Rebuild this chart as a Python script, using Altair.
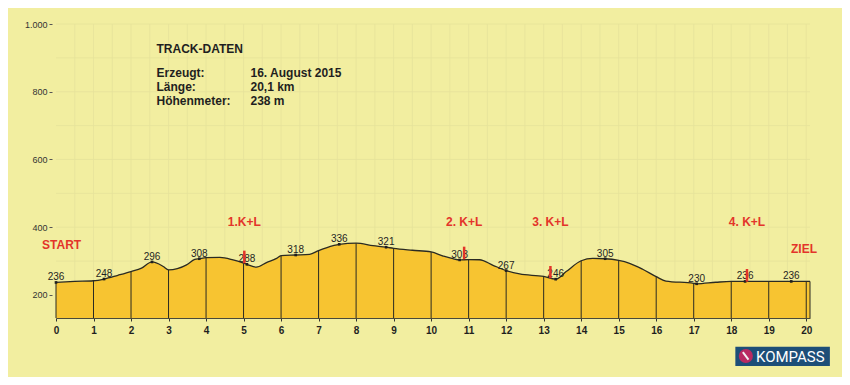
import altair as alt
import pandas as pd

# ---- elevation profile (km, metres) ----
km = [0, 0.5, 1, 1.28, 1.65, 2, 2.28, 2.56, 2.86, 3, 3.48, 3.7, 3.82, 4, 4.37,
      4.72, 5, 5.09, 5.34, 5.61, 5.88, 6, 6.39, 6.76, 7, 7.39, 7.55, 8, 8.45,
      8.8, 9, 9.5, 10, 10.32, 10.58, 10.76, 11, 11.29, 11.65, 12, 12.36, 13,
      13.32, 13.6, 14, 14.31, 14.64, 15, 15.29, 15.64, 16, 16.26, 17, 17.08,
      17.59, 18, 18.37, 19, 19.6, 20, 20.1]
elev = [237, 240, 242, 247, 258, 269, 279, 297.5, 284, 274, 289, 305, 307, 310, 311,
        303.5, 294, 290.5, 282, 295.5, 308, 316, 318, 320, 331, 345.7, 349.6, 352.8, 345.7,
        341, 337.7, 332, 327, 315, 307, 303.5, 304.5, 304, 287.6, 272, 262, 254.6,
        246.6, 269, 301, 308, 307, 302, 293.5, 276, 254, 241, 234.5, 233,
        237.5, 240, 240, 240, 240, 240, 240]
point_label = ["236", "", "", "248", "", "", "", "296", "", "", "", "", "308", "", "",
               "", "", "288", "", "", "", "", "318", "", "", "", "336", "", "",
               "321", "", "", "", "", "", "303", "", "", "", "267", "", "",
               "246", "", "", "", "305", "", "", "", "", "", "", "230",
               "", "", "236", "", "236", "", ""]

# ---- control points ----
cp_text = ["1.K+L", "2. K+L", "3. K+L", "4. K+L"]
cp_km = [5.02, 10.88, 13.18, 18.42]
cp_low = [293.6, 305.4, 249.3, 239.3]
cp_high = [330.8, 342.6, 285.6, 276.7]

# ---- axis ticks ----
x_ticks = [0, 1, 2, 3, 4, 5, 6, 7, 8, 9, 10, 11, 12, 13, 14, 15, 16, 17, 18, 19, 20]
y_ticks = [200, 400, 600, 800, 1000]
grid_elev = [200, 300, 400, 500, 600, 700, 800, 900, 1000]
grid_km = [0.5, 1, 1.5, 2, 2.5, 3, 3.5, 4, 4.5, 5, 5.5, 6, 6.5, 7, 7.5, 8, 8.5, 9,
           9.5, 10, 10.5, 11, 11.5, 12, 12.5, 13, 13.5, 14, 14.5, 15, 15.5, 16,
           16.5, 17, 17.5, 18, 18.5, 19, 19.5, 20]

# ---- track info ----
info_title = "TRACK-DATEN"
info_keys = ["Erzeugt:", "Länge:", "Höhenmeter:"]
info_vals = ["16. August 2015", "20,1 km", "238 m"]

profile = pd.DataFrame({"km": km, "elev": elev, "label": point_label})
cps = pd.DataFrame({"text": cp_text, "km": cp_km, "low": cp_low, "high": cp_high})
one = pd.DataFrame({"a": [0]})

BOTTOM = 132
xs = alt.Scale(domain=[0, 20.1], nice=False, zero=False)
ys = alt.Scale(domain=[BOTTOM, 1000], nice=False, zero=False)

FONT = "Liberation Sans, Arial, sans-serif"
RED = "#E3342A"
INK = "#1f1f1f"

x_axis = alt.Axis(values=x_ticks, tickCount=21, format="d", title=None, grid=False,
                  domain=True, domainColor="#4a4a3a", domainWidth=1.2,
                  ticks=True, tickSize=3, tickColor="#333333",
                  labelPadding=4, labelFontSize=10, labelFontWeight="bold",
                  labelColor=INK, labelFont=FONT, labelOverlap=False,
                  labelFlush=False)
y_axis = alt.Axis(values=y_ticks, title=None, grid=False, domain=False,
                  ticks=True, tickSize=3, tickColor="#555555", offset=4,
                  labelPadding=2, labelFontSize=9, labelColor="#333333",
                  labelFont=FONT, labelOverlap=False,
                  labelExpr="replace(format(datum.value, ','), ',', '.')")


def X(f):
    return alt.X(f, scale=xs, axis=x_axis, title=None)


def Y(f):
    return alt.Y(f, scale=ys, axis=y_axis, title=None)


hgrid = alt.Chart(pd.DataFrame({"g": grid_elev})).mark_rule(
    color="#E6E29A", strokeWidth=0.8).encode(y=Y("g:Q"))
vgrid = alt.Chart(pd.DataFrame({"g": grid_km})).mark_rule(
    color="#E6E29A", strokeWidth=0.8).encode(x=X("g:Q"))

base = alt.Chart(profile)
area = base.mark_area(color="#F7C431", interpolate="monotone").encode(
    x=X("km:Q"), y=Y("elev:Q"), y2=alt.datum(BOTTOM))
line = base.mark_line(color="#2a2a22", strokeWidth=1.3, interpolate="monotone").encode(
    x=X("km:Q"), y=Y("elev:Q"))
kmlines = base.transform_filter(
    "datum.km % 1 == 0 || datum.km == 20.1").mark_rule(
    color="#2a2a22", strokeWidth=1).encode(x=X("km:Q"), y=Y("elev:Q"), y2=alt.datum(BOTTOM))

labelled = base.transform_filter("datum.label != ''")
dots = labelled.mark_point(shape="square", filled=True, size=7, color=INK, opacity=1).encode(
    x=X("km:Q"), y=Y("elev:Q"))
vals = labelled.mark_text(fontSize=10, font=FONT, color=INK, baseline="alphabetic",
                          dy=-2).encode(x=X("km:Q"), y=Y("elev:Q"), text="label:N")

cp_base = alt.Chart(cps)
cp_marks = cp_base.mark_rule(color=RED, strokeWidth=2.5).encode(
    x=X("km:Q"), y=Y("low:Q"), y2="high:Q")
cp_labels = cp_base.mark_text(fontSize=12, fontWeight="bold", font=FONT, color=RED,
                              baseline="middle").encode(
    x=X("km:Q"), y=alt.datum(414), text="text:N")


def txt(s, x, y, **kw):
    opts = dict(fontSize=12, fontWeight="bold", font=FONT, align="left",
                baseline="alphabetic", color=INK)
    opts.update(kw)
    return alt.Chart(one).mark_text(text=s, **opts).encode(
        x=alt.datum(x), y=alt.datum(y))


start = txt("START", 0.15, 348.5, color=RED, align="center", baseline="middle")
ziel = txt("ZIEL", 19.94, 336.6, color=RED, align="center", baseline="middle")

info_rows = [txt(info_title, 2.68, 914.4)]
row_y = [843.5, 802.2, 760.9]
for k, v, yy in zip(info_keys, info_vals, row_y):
    info_rows.append(txt(k, 2.68, yy))
    info_rows.append(txt(v, 5.185, yy))

logo_box = alt.Chart(one).mark_rect(color="#1D4E78").encode(
    x=alt.datum(18.11), x2=alt.datum(20.63), y=alt.datum(47.3), y2=alt.datum(-9.7))
logo_disk = alt.Chart(one).mark_point(shape="circle", filled=True, size=200,
                                      color="#B92A62", opacity=1).encode(
    x=alt.datum(18.39), y=alt.datum(19.8))
logo_needle = alt.Chart(one).mark_rule(color="#F2F2F2", strokeWidth=2).encode(
    x=alt.datum(18.31), x2=alt.datum(18.46), y=alt.datum(31), y2=alt.datum(9))
logo_text = txt("KOMPASS", 18.66, 2.1, color="#FFFFFF", fontWeight="normal",
                fontSize=15, font="Roboto, Liberation Sans, sans-serif")

chart = alt.layer(
    hgrid, vgrid, area, kmlines, line, dots, vals, cp_marks, cp_labels,
    start, ziel, *info_rows, logo_box, logo_disk, logo_needle, logo_text,
).properties(
    width=754, height=294,
    autosize=alt.AutoSizeParams(type="none"),
    padding={"left": 48, "top": 16, "right": 32, "bottom": 59},
    background="#F2EEA0",
).configure_view(stroke=None)

chart.save("out.html", embed_options={"renderer": "svg", "actions": False})
